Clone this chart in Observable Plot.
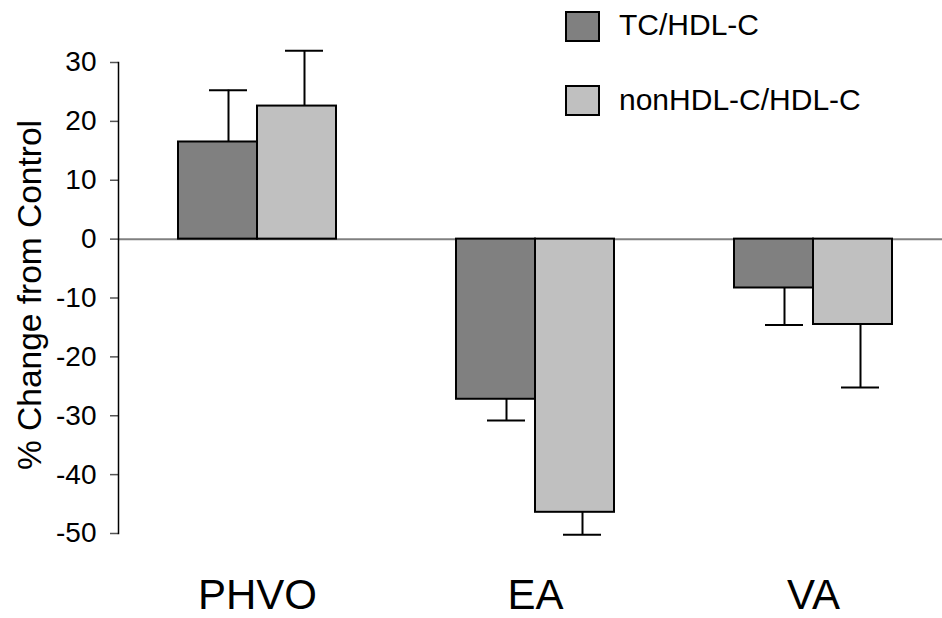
<!DOCTYPE html>
<html>
<head>
<meta charset="utf-8">
<script src="https://cdn.jsdelivr.net/npm/d3@7"></script>
<script src="https://cdn.jsdelivr.net/npm/@observablehq/plot@0.6"></script>
<style>
  html, body { margin: 0; padding: 0; background: #fff; }
  #wrap { position: relative; width: 942px; height: 618px; overflow: hidden; }
  #legend { position: absolute; left: 0; top: 0; pointer-events: none; }
</style>
</head>
<body>
<div id="wrap"></div>
<script>
// ---- data ----
const categories = ["PHVO", "EA", "VA"];
const series = ["TC/HDL-C", "nonHDL-C/HDL-C"];
const seriesColors = ["#808080", "#c0c0c0"];
const tcValues = [16.5, -27.2, -8.3];
const tcErrors = [8.8, 3.6, 6.3];
const nonHdlValues = [22.6, -46.4, -14.5];
const nonHdlErrors = [9.4, 3.8, 10.7];
const yTicks = [30, 20, 10, 0, -10, -20, -30, -40, -50];
const yLabel = "% Change from Control";

const font = "'Liberation Sans', Arial, Helvetica, sans-serif";

function rows(values, errors, s) {
  return categories.map((c, i) => ({
    cat: c, series: s, value: values[i],
    end: values[i] + Math.sign(values[i]) * errors[i]
  }));
}
const tcRows = rows(tcValues, tcErrors, series[0]);
const nonRows = rows(nonHdlValues, nonHdlErrors, series[1]);

const half = 79; // one bar width inside the pair band

const chart = Plot.plot({
  width: 942,
  height: 618,
  marginTop: 62,
  marginBottom: 85,
  marginLeft: 118,
  marginRight: 0,
  style: { fontFamily: font, background: "white", color: "black", overflow: "hidden" },
  x: { domain: categories, range: [118, 952], paddingInner: 0.432, paddingOuter: 0.216 },
  y: { domain: [-50, 30] },
  marks: [
    Plot.ruleY([0], { stroke: "#808080", strokeWidth: 2 }),
    Plot.axisY({ ticks: yTicks, tickFormat: d => String(d), tickSize: 8, tickPadding: 14, fontSize: 28, label: null, stroke: "#555", strokeWidth: 1.5 }),
    Plot.axisX({ tickSize: 0, tickPadding: 46, fontSize: 42, label: null }),
    Plot.frame({ anchor: "left", stroke: "black", strokeWidth: 1.5 }),
    Plot.barY(tcRows, { x: "cat", y: "value", fill: seriesColors[0], stroke: "black", strokeWidth: 2, insetRight: half }),
    Plot.barY(nonRows, { x: "cat", y: "value", fill: seriesColors[1], stroke: "black", strokeWidth: 2, insetLeft: half }),
    Plot.ruleX(tcRows, { x: "cat", y1: "value", y2: "end", dx: -29, stroke: "black", strokeWidth: 2 }),
    Plot.tickY(tcRows, { x: "cat", y: "end", dx: -29, insetLeft: 60, insetRight: 60, stroke: "black", strokeWidth: 2 }),
    Plot.ruleX(nonRows, { x: "cat", y1: "value", y2: "end", dx: 47, stroke: "black", strokeWidth: 2 }),
    Plot.tickY(nonRows, { x: "cat", y: "end", dx: 47, insetLeft: 60, insetRight: 60, stroke: "black", strokeWidth: 2 }),
    Plot.text([yLabel], { text: d => d, frameAnchor: "left", textAnchor: "middle", rotate: -90, dx: -78, dy: -3, lineAnchor: "bottom", fontSize: 33.5, fill: "black" })
  ]
});

const wrap = document.getElementById("wrap");
wrap.appendChild(chart);

// legend overlay
const leg = d3.select(wrap).append("svg")
  .attr("id", "legend").attr("width", 942).attr("height", 618)
  .style("font-family", font);
const legendRows = [{ y: 12, tx: 35 }, { y: 86, tx: 110 }];
series.forEach((s, i) => {
  leg.append("rect")
    .attr("x", 566).attr("y", legendRows[i].y)
    .attr("width", 33).attr("height", 29)
    .attr("fill", seriesColors[i]).attr("stroke", "black").attr("stroke-width", 2);
  leg.append("text")
    .attr("x", 619).attr("y", legendRows[i].tx)
    .attr("font-size", 30).attr("fill", "black")
    .text(s);
});
</script>
</body>
</html>
